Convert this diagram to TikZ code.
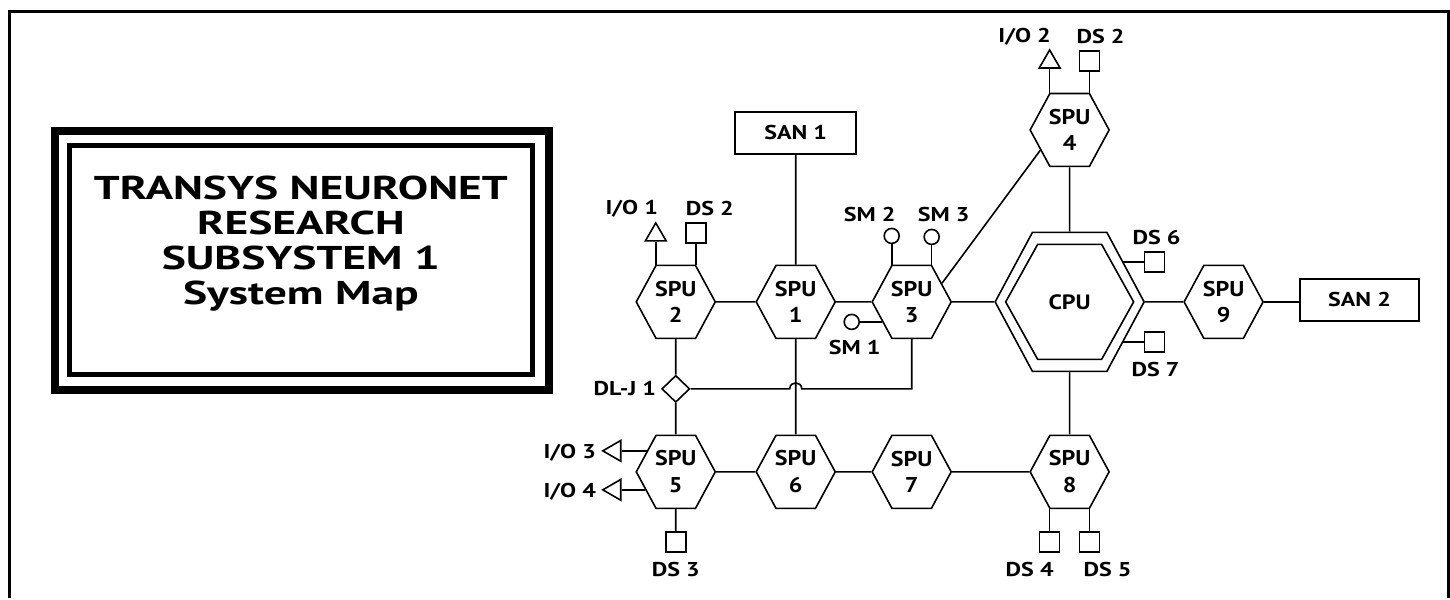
\documentclass[tikz,border=0pt]{standalone}
\usepackage{fontspec}
\setmainfont{PT Sans}[FakeStretch=1.2]
\newfontfamily\titlefont{PT Sans}[FakeStretch=1.38]
\usetikzlibrary{shapes.geometric,calc}
\newcommand\hexfnt{\fontsize{20}{25}\selectfont\bfseries}
\newcommand\lblfnt{\fontsize{20}{22}\selectfont\bfseries}
\newcommand\hexat[3]{\begin{scope}[shift={(#1)}]\node[hex] (#2) at (0,0) {#3};\end{scope}}
\begin{document}
\begin{tikzpicture}[x=1pt,y=-1pt,line width=1.6pt,
  hexbase/.style={regular polygon,regular polygon sides=6,draw,minimum size=79pt,inner sep=0pt,align=center,font=\hexfnt},
  hex/.style={hexbase,yscale=1.067},
  sanbox/.style={rectangle,draw,minimum width=121pt,minimum height=42pt,inner sep=0pt,font=\hexfnt},
  sq/.style={rectangle,draw,minimum size=20pt,inner sep=0pt},
  smc/.style={circle,draw,minimum size=15pt,inner sep=0pt},
  tri/.style={regular polygon,regular polygon sides=3,draw,minimum size=24pt,inner sep=0pt},
  trileft/.style={tri,shape border rotate=90},
  dmd/.style={diamond,draw,minimum width=28pt,minimum height=27pt,inner sep=0pt},
  lbl/.style={inner sep=0pt,font=\lblfnt}]
\fill[white] (0,0) rectangle (1450,598);
% outer frame
\draw[line width=3pt] (10,598) -- (10,12) -- (1449,12) -- (1449,598);
% title box
\draw[line width=8pt] (55,131) rectangle (549,390);
\draw[line width=5pt] (70,146) rectangle (533,375);
\node[align=center,inner sep=0pt,anchor=north,font={\titlefont\bfseries\fontsize{33}{35}\selectfont}] (title) at (301,175)
  {TRANSYS NEURONET\\RESEARCH\\SUBSYSTEM 1\\System Map};
% hexagons
\hexat{796,302}{spu1}{SPU\\1}
\hexat{676,302}{spu2}{SPU\\2}
\hexat{912,302}{spu3}{SPU\\3}
\hexat{1070,130}{spu4}{SPU\\4}
\hexat{676,472}{spu5}{SPU\\5}
\hexat{796,472}{spu6}{SPU\\6}
\hexat{912,472}{spu7}{SPU\\7}
\hexat{1070,472}{spu8}{SPU\\8}
\hexat{1224,302}{spu9}{SPU\\9}
\begin{scope}[shift={(1070,302)}]
  \node[hexbase,minimum size=149pt,yscale=1.077] (cpu) at (0,0) {};
  \node[hexbase,minimum size=128pt,yscale=1.037] (cpuin) at (0,0) {CPU};
\end{scope}
% SAN boxes
\node[sanbox] (san1) at (796,133) {SAN 1};
\node[sanbox,minimum width=119pt] (san2) at (1360,300) {SAN 2};
% junction
\node[dmd] (dlj) at (676,389) {};
% peripherals
\node[tri] (io1) at (656,235) {};
\node[sq] (ds2a) at (696,233) {};
\node[smc] (sm2) at (892,236) {};
\node[smc] (sm3) at (932,237) {};
\node[smc] (sm1) at (852,322) {};
\node[tri] (io2) at (1050,62) {};
\node[sq] (ds2b) at (1090,61) {};
\node[sq] (ds6) at (1155,262) {};
\node[sq] (ds7) at (1155,342) {};
\node[sq] (ds4) at (1050,542) {};
\node[sq] (ds5) at (1090,542) {};
\node[sq] (ds3) at (676,542) {};
\node[trileft] (io3) at (615,451) {};
\node[trileft] (io4) at (615,490) {};
% labels
\node[lbl] (lio1) at (632,209) {I/O 1};
\node[lbl] (lds2a) at (710,209) {DS 2};
\node[lbl] (lsm2) at (870,215) {SM 2};
\node[lbl] (lsm3) at (944,215) {SM 3};
\node[lbl] (lsm1) at (855,348) {SM 1};
\node[lbl] (lio2) at (1025,37) {I/O 2};
\node[lbl] (lds2b) at (1101,37) {DS 2};
\node[lbl] (lds6) at (1157,238) {DS 6};
\node[lbl] (lds7) at (1156,370) {DS 7};
\node[lbl] (lds4) at (1030,570) {DS 4};
\node[lbl] (lds5) at (1108,570) {DS 5};
\node[lbl] (lds3) at (676,570) {DS 3};
\node[lbl] (lio3) at (570,453) {I/O 3};
\node[lbl] (lio4) at (570,492) {I/O 4};
\node[lbl] (ldlj) at (625,389) {DL-J 1};
% connectors
\draw (spu2) -- (spu1);
\draw (spu1) -- (spu3);
\draw (spu3) -- (cpu);
\draw (cpu) -- (spu9);
\draw (spu9.east) -- (spu9.east -| san2.west);
\draw (san1) -- (spu1);
\draw (spu1) -- (spu6);
\draw (spu2) -- (dlj);
\draw (dlj) -- (spu5);
\coordinate (hop) at (spu1.south |- dlj.east);
\draw (dlj.east) -- ([xshift=-6pt]hop) .. controls ([xshift=-6pt,yshift=8pt]hop) and ([xshift=6pt,yshift=8pt]hop) .. ([xshift=6pt]hop) -- (spu3.south |- dlj.east) -- (spu3.south);
\draw (spu3.30) -- (spu4.213);
\draw (spu4) -- (cpu);
\draw (cpu) -- (spu8);
\draw (spu5) -- (spu6);
\draw (spu6) -- (spu7);
\draw (spu7) -- (spu8);
\draw (io1.south) -- (io1.south |- spu2.north);
\draw (ds2a.south) -- (ds2a.south |- spu2.north);
\draw (sm2.south) -- (sm2.south |- spu3.north);
\draw (sm3.south) -- (sm3.south |- spu3.north);
\draw (sm1.east) -- (sm1.east -| spu3.213);
\draw (io2.south) -- (io2.south |- spu4.north);
\draw (ds2b.south) -- (ds2b.south |- spu4.north);
\draw (ds6.west) -- (ds6.west -| cpu.35);
\draw (ds7.west) -- (ds7.west -| cpu.325);
\draw (ds4.north) -- (ds4.north |- spu8.south);
\draw (ds5.north) -- (ds5.north |- spu8.south);
\draw (spu5) -- (ds3);
\draw (io3.east) -- (io3.east -| spu5.145);
\draw (io4.east) -- (io4.east -| spu5.210);
\end{tikzpicture}
\end{document}
